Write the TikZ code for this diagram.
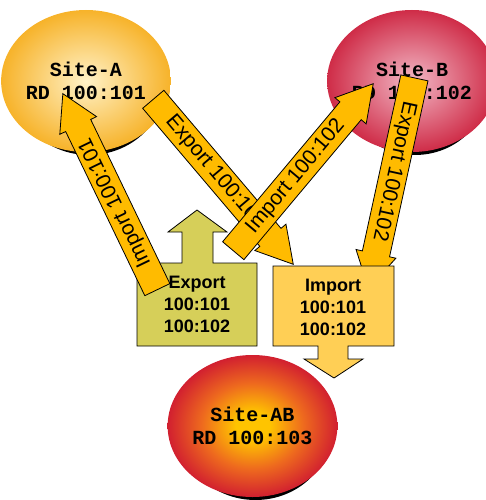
\documentclass[tikz,border=0pt]{standalone}
\usepackage{fontspec}
\setmainfont{Liberation Sans}
\newfontfamily\sitefont{Liberation Mono}
\usetikzlibrary{calc,%
		shapes.arrows,%
		shapes.geometric}
\definecolor{arrowfill}{HTML}{FFBB00}
\definecolor{exportfill}{HTML}{D6CF59}
\definecolor{importfill}{HTML}{FFCF55}
\definecolor{aIn}{HTML}{FFF2C8}
\definecolor{aOut}{HTML}{F5A60A}
\definecolor{bIn}{HTML}{F2B8C6}
\definecolor{bOut}{HTML}{C8102E}
\definecolor{abIn}{HTML}{FFC400}
\definecolor{abMid}{HTML}{EE6A1E}
\definecolor{abOut}{HTML}{CC1133}
\pgfdeclareradialshading{siteAshade}{\pgfpoint{0bp}{0bp}}{color(0bp)=(aIn);color(30bp)=(aOut);color(60bp)=(aOut)}
\pgfdeclareradialshading{siteBshade}{\pgfpoint{0bp}{0bp}}{color(0bp)=(bIn);color(30bp)=(bOut);color(60bp)=(bOut)}
\pgfdeclareradialshading{siteABshade}{\pgfpoint{0bp}{0bp}}{color(0bp)=(abIn);color(5bp)=(abIn);color(15bp)=(abMid);color(27bp)=(abOut);color(60bp)=(abOut)}

\begin{document}
\begin{tikzpicture}[x=1bp,y=-1bp,
  site/.style={ellipse, shade, minimum width=152bp, minimum height=142bp, inner sep=0pt,
    align=center, font=\sitefont\bfseries\fontsize{20bp}{23bp}\selectfont},
  sitedrop/.style={fill=black},
  fatarrow/.style={single arrow, draw, line width=0.8bp, fill=arrowfill, anchor=tail,
    single arrow tip angle=60, single arrow head extend=6.5bp,
    inner sep=4bp, text height=15bp, text depth=4bp, font=\fontsize{21bp}{25bp}\selectfont},
  rtbox/.style={draw, line width=0.8bp},
  rttext/.style={align=center, font=\bfseries\fontsize{18bp}{22bp}\selectfont}]

  \useasboundingbox (0,0) rectangle (486,500);

  \fill[sitedrop] (89,84) ellipse [x radius=76, y radius=71];
  \node[site, shading=siteAshade] (siteA) at (86,81) {Site-A\\RD 100:101};
  \fill[sitedrop] (415,84) ellipse [x radius=74, y radius=71];
  \node[site, shading=siteBshade, minimum width=148bp] (siteB) at (412,81) {Site-B\\RD 100:102};

  \draw[rtbox, fill=exportfill] (137,346) -- (137,263) -- (182,263) -- (182,232) -- (168,232)
    -- (197,210) -- (227,232) -- (213,232) -- (213,263) -- (257,263) -- (257,346) -- cycle;
  \node[rttext] (exp) at (197,304) {Export\\100:101\\100:102};

  \coordinate (impAtail) at (157.5,290);
  \coordinate (impAtip) at (63,94);
  \coordinate (expAtail) at (153,99);
  \coordinate (expAtip) at (293,264);
  \coordinate (impBtail) at (233,251);
  \coordinate (impBtip) at (373,84);
  \coordinate (expBtail) at (414.5,77.5);
  \coordinate (expBtip) at (368.5,288);

  \path let \p1=($(expAtip)-(expAtail)$) in
    node[fatarrow, rotate={atan2(\y1,\x1)}, minimum height={veclen(\x1,\y1)}] (expA) at (expAtail) {Export 100:101};
  \path let \p1=($(impAtip)-(impAtail)$) in
    node[fatarrow, rotate={atan2(\y1,\x1)}, minimum height={veclen(\x1,\y1)}] (impA) at (impAtail) {Import 100:101};
  \path let \p1=($(expBtip)-(expBtail)$) in
    node[fatarrow, rotate={atan2(\y1,\x1)}, minimum height={veclen(\x1,\y1)}] (expB) at (expBtail) {Export 100:102};
  \path let \p1=($(impBtip)-(impBtail)$) in
    node[fatarrow, rotate={atan2(\y1,\x1)}, minimum height={veclen(\x1,\y1)}] (impB) at (impBtail) {Import 100:102};

  \draw[rtbox, fill=importfill] (273,266) -- (394,266) -- (394,346) -- (348,346) -- (348,359) -- (363,359)
    -- (334,378) -- (304,359) -- (318,359) -- (318,346) -- (273,346) -- cycle;
  \node[rttext] (imp) at (333,307) {Import\\100:101\\100:102};

  \fill[sitedrop] (255.5,429) ellipse [x radius=76, y radius=71];
  \node[site, shading=siteABshade] (siteAB) at (252.5,426) {Site-AB\\RD 100:103};

\end{tikzpicture}
\end{document}
